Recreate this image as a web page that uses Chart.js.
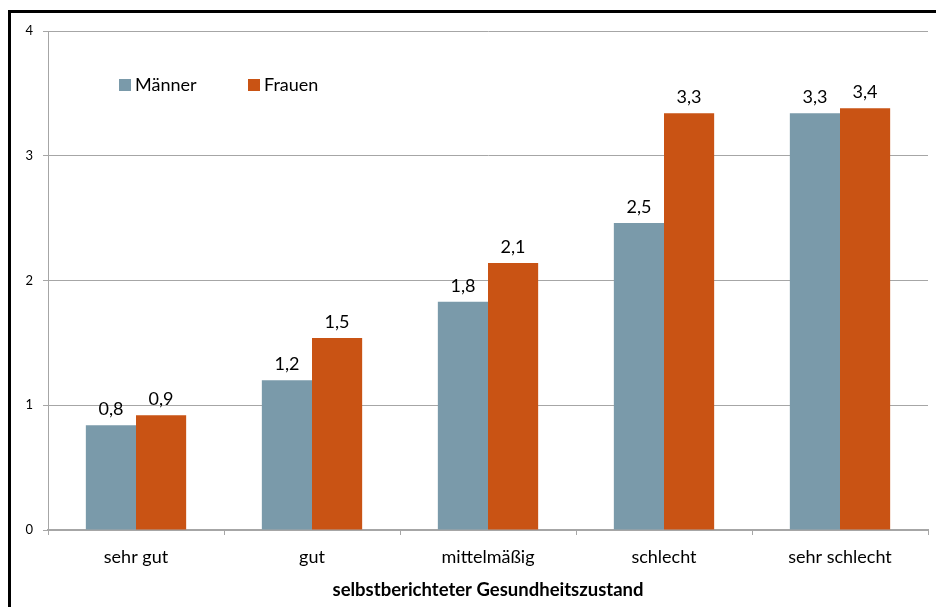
<!DOCTYPE html>
<html>
<head>
<meta charset="utf-8">
<script src="https://cdn.jsdelivr.net/npm/chart.js@4/dist/chart.umd.min.js"></script>
<style>
  html, body { margin: 0; padding: 0; background: #fff; }
  #frame { position: absolute; left: 8px; top: 10px; width: 940px; height: 610px;
           border-left: 3px solid #000; border-top: 3px solid #000; }
  #wrap { position: absolute; left: 0; top: 0; width: 936px; height: 607px; }
</style>
</head>
<body>
<div id="frame"></div>
<div id="wrap"><canvas id="chart"></canvas></div>
<script>
const categories = ["sehr gut", "gut", "mittelmäßig", "schlecht", "sehr schlecht"];
const maenner = [0.84, 1.2, 1.83, 2.46, 3.34];
const frauen = [0.92, 1.54, 2.14, 3.34, 3.38];
const yTicks = [0, 1, 2, 3, 4];
const seriesNames = ["Männer", "Frauen"];
const seriesColors = ["#7a9aaa", "#c95314"];

const fontFamily = "Lato, 'Open Sans', sans-serif";

// Zahlen über den Balken, mit Komma
const valueLabels = {
  id: "valueLabels",
  afterDatasetsDraw(chart) {
    const ctx = chart.ctx;
    ctx.save();
    ctx.font = "18px " + fontFamily;
    ctx.fillStyle = "#000";
    ctx.textAlign = "center";
    ctx.textBaseline = "alphabetic";
    chart.data.datasets.forEach((ds, i) => {
      chart.getDatasetMeta(i).data.forEach((bar, j) => {
        const txt = ds.data[j].toFixed(1).replace(".", ",");
        ctx.fillText(txt, bar.x, bar.y - 10);
      });
    });
    ctx.restore();
  }
};

// Legende innerhalb der Zeichenfläche
const innerLegend = {
  id: "innerLegend",
  afterDraw(chart) {
    const ctx = chart.ctx;
    ctx.save();
    ctx.font = "18px " + fontFamily;
    ctx.textBaseline = "middle";
    const xs = [119, 248];
    chart.data.datasets.forEach((ds, i) => {
      ctx.fillStyle = ds.backgroundColor;
      ctx.fillRect(xs[i], 79, 12, 12);
      ctx.fillStyle = "#000";
      ctx.fillText(ds.label, xs[i] + 16, 85);
    });
    ctx.restore();
  }
};

new Chart(document.getElementById("chart"), {
  type: "bar",
  data: {
    labels: categories,
    datasets: [
      { label: seriesNames[0], data: maenner, backgroundColor: seriesColors[0] },
      { label: seriesNames[1], data: frauen, backgroundColor: seriesColors[1] }
    ]
  },
  options: {
    responsive: true,
    maintainAspectRatio: false,
    animation: false,
    categoryPercentage: 0.57,
    barPercentage: 1,
    layout: { padding: { left: 12, top: 31, right: 8, bottom: 6 } },
    plugins: { legend: { display: false }, tooltip: { enabled: false } },
    scales: {
      x: {
        afterFit(scale) { scale.height = 71; },
        grid: { display: true, drawOnChartArea: false, drawTicks: true, tickLength: 5, color: "#a6a6a6", offset: true },
        border: { color: "#a6a6a6", width: 2 },
        ticks: { color: "#000", font: { family: fontFamily, size: 18 }, padding: 11 },
        title: {
          display: true,
          text: "selbstberichteter Gesundheitszustand",
          color: "#000",
          font: { family: fontFamily, size: 18.5, weight: "bold" },
          padding: { top: 4, bottom: 0 }
        }
      },
      y: {
        min: 0, max: 4,
        afterBuildTicks(scale) { scale.ticks = yTicks.map(v => ({ value: v })); },
        afterFit(scale) { scale.width = 36; },
        grid: { color: "#a6a6a6", tickLength: 5, lineWidth: 1 },
        border: { color: "#a6a6a6", width: 1 },
        ticks: { color: "#000", font: { family: fontFamily, size: 13 }, padding: 10 }
      }
    }
  },
  plugins: [valueLabels, innerLegend]
});
</script>
</body>
</html>
